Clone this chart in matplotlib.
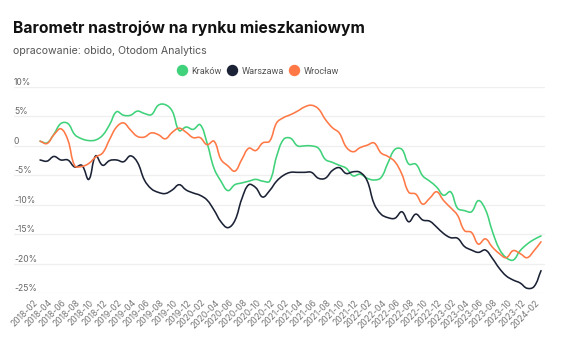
import numpy as np
import pandas as pd
import matplotlib
matplotlib.use("Agg")
import matplotlib.pyplot as plt
import matplotlib.transforms as mtransforms
from matplotlib.lines import Line2D
from matplotlib.path import Path
from matplotlib.patches import PathPatch

plt.rcParams["font.family"] = ["Inter", "DejaVu Sans"]

# =========================
# Data (%)
# =========================
months = pd.date_range("2018-02-01", "2024-02-01", freq="MS")
tick_labels = [d.strftime("%Y-%m") for d in months[::2]]

krakow = [
    0.8, 0.5, 2.0, 3.8, 3.8, 1.9, 1.2, 0.9, 1.0, 1.8,
    3.6, 5.8, 5.2, 5.2, 5.9, 5.5, 5.3, 6.9, 7.0, 5.9,
    2.6, 3.2, 2.8, 3.6, 0.5, -3.8, -6.0, -7.6, -6.6, -6.3,
    -6.0, -5.7, -6.0, -6.0, -1.8, 1.1, 1.3, 0.0, 0.0, 0.0,
    -0.4, -2.3, -2.8, -3.3, -3.8, -5.1, -4.8, -5.5, -5.8, -5.4,
    -2.9, -0.6, -0.6, -3.1, -3.1, -5.1, -6.0, -7.0, -8.4, -7.8,
    -10.6, -11.0, -11.2, -9.3, -10.8, -14.5, -17.5, -19.0, -19.4, -17.8,
    -16.7, -15.9, -15.3,
]
warszawa = [
    -2.4, -2.6, -1.8, -2.4, -2.4, -3.6, -3.3, -5.7, -1.7, -3.3,
    -2.5, -2.4, -2.7, -1.7, -2.8, -5.8, -7.3, -7.9, -8.1, -7.5,
    -6.6, -7.5, -8.0, -8.4, -9.2, -10.9, -12.9, -13.9, -12.7, -9.0,
    -6.6, -7.1, -8.7, -7.6, -6.0, -5.0, -4.5, -4.5, -4.5, -4.5,
    -5.5, -5.5, -4.2, -3.7, -4.7, -4.4, -4.5, -5.9, -9.8, -11.6,
    -12.2, -12.3, -11.2, -12.9, -11.6, -12.6, -12.8, -13.8, -14.9, -15.6,
    -15.7, -17.1, -17.7, -18.1, -17.7, -19.1, -20.8, -22.1, -22.8, -23.3,
    -24.2, -23.9, -21.2,
]
wroclaw = [
    0.8, 0.4, 1.9, 2.9, 1.0, -3.4, -3.5, -3.0, -1.9, -1.2,
    1.1, 3.2, 3.9, 2.7, 1.6, 1.5, 2.2, 1.9, 1.2, 2.3,
    3.0, 2.3, 1.4, 1.4, 0.2, 0.8, -2.3, -3.4, -4.3, -2.3,
    -0.4, -0.8, 0.5, 0.8, 3.9, 4.8, 5.3, 5.9, 6.6, 6.9,
    6.3, 4.5, 3.1, 2.2, -0.2, -1.0, -0.3, 0.1, 0.5, -1.2,
    -1.8, -2.7, -4.8, -7.9, -8.2, -9.9, -8.9, -7.8, -9.3, -10.5,
    -11.8, -14.4, -14.7, -16.7, -15.8, -17.2, -18.3, -19.0, -17.8, -18.3,
    -19.0, -17.8, -16.3,
]

y_ticks = [10, 5, 0, -5, -10, -15, -20, -25]
y_tick_labels = ["10%", "5%", "0", "-5%", "-10%", "-15%", "-20%", "-25%"]

series = [
    ("Kraków", krakow, "#3fd27a"),
    ("Warszawa", warszawa, "#1b2235"),
    ("Wrocław", wroclaw, "#ff7845"),
]


def smooth_path(xs, ys, sx, sy, tension=0.4):
    # Bezier path through the points (Chart.js style spline),
    # distances measured in pixel units sx, sy
    xs = np.asarray(xs, float)
    ys = np.asarray(ys, float)
    n = len(xs)
    cp_prev = np.zeros((n, 2))
    cp_next = np.zeros((n, 2))
    scale = np.array([sx, sy])
    for i in range(n):
        p = np.array([xs[max(i - 1, 0)], ys[max(i - 1, 0)]])
        c = np.array([xs[i], ys[i]])
        q = np.array([xs[min(i + 1, n - 1)], ys[min(i + 1, n - 1)]])
        d01 = np.hypot(*((c - p) * scale))
        d12 = np.hypot(*((q - c) * scale))
        tot = d01 + d12
        fa = tension * d01 / tot if tot else 0
        fb = tension * d12 / tot if tot else 0
        cp_prev[i] = c - fa * (q - p)
        cp_next[i] = c + fb * (q - p)
    verts = [(xs[0], ys[0])]
    codes = [Path.MOVETO]
    for i in range(1, n):
        verts += [tuple(cp_next[i - 1]), tuple(cp_prev[i]), (xs[i], ys[i])]
        codes += [Path.CURVE4] * 3
    return Path(verts, codes)


# =========================
# Figure
# =========================
W, H = 564, 353
fig = plt.figure(figsize=(W / 100, H / 100), dpi=100)
ax = fig.add_axes([14 / W, (H - 293) / H, (545 - 14) / W, (293 - 87) / H])

x = np.arange(len(months))
for name, vals, col in series:
    ax.add_patch(PathPatch(smooth_path(x, vals, 6.96, 5.9), fill=False,
                           edgecolor=col, lw=1.15, joinstyle="round", capstyle="round"))

ax.set_xlim(-3.74, len(months) - 1 + 0.57)
ax.set_ylim(-25, 10)

for s in ax.spines.values():
    s.set_visible(False)
ax.set_yticks(y_ticks)
ax.set_yticklabels([])
ax.tick_params(axis="y", length=0)
ax.grid(axis="y", color="#efefef", lw=0.9)
ax.set_axisbelow(True)

# y labels sit above their gridlines, at the left edge
trans = mtransforms.blended_transform_factory(ax.transAxes, ax.transData)
for v, lab in zip(y_ticks, y_tick_labels):
    ax.text(0, v, lab, transform=trans, ha="left", va="bottom",
            fontsize=6.2, color="#666666")

ax.set_xticks(x[::2])
ax.set_xticklabels(tick_labels, rotation=45, ha="right", va="center",
                   rotation_mode="anchor", fontsize=6.2, color="#777777")
ax.tick_params(axis="x", length=0, pad=6)
off = mtransforms.ScaledTranslation(-3 / 100, 0, fig.dpi_scale_trans)
for lab in ax.get_xticklabels():
    lab.set_transform(lab.get_transform() + off)

# title / subtitle
fig.text(13 / W, 1 - 33 / H, "Barometr nastrojów na rynku mieszkaniowym",
         fontsize=11.3, fontweight="bold", color="#111111", ha="left", va="baseline")
fig.text(13 / W, 1 - 54 / H, "opracowanie: obido, Otodom Analytics",
         fontsize=7.6, color="#555555", ha="left", va="baseline")

handles = [Line2D([], [], ls="none", marker="o", ms=7.2, color=c, label=n)
           for n, _, c in series]
fig.legend(handles=handles, loc="center", bbox_to_anchor=(258 / W, 1 - 71 / H),
           ncol=3, frameon=False, handlelength=1.1, handletextpad=0.45,
           columnspacing=0.6, labelcolor="#555555", borderaxespad=0,
           prop={"family": ["Roboto", "DejaVu Sans"], "size": 6.6})

fig.savefig("out.png", dpi=100)
